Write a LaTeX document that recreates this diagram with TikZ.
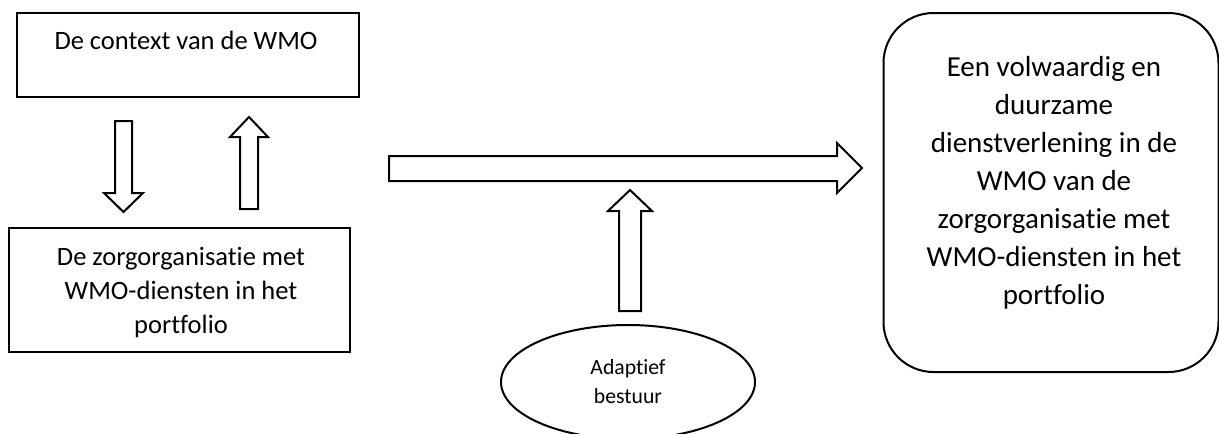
\documentclass[tikz,border=0pt]{standalone}
\usepackage{fontspec}
\setmainfont{Carlito}[Ligatures={NoCommon,NoRare,NoDiscretionary}]
\usetikzlibrary{shapes.geometric}
\begin{document}
\begin{tikzpicture}[x=1pt,y=-1pt, line width=2pt, line join=miter,
  box/.style={draw, rectangle, inner sep=0pt},
  blockarrow/.style={draw, line width=2pt, fill=white, line join=miter},
  txtA/.style={font=\fontsize{26.5}{34}\selectfont, align=center},
  txtB/.style={font=\fontsize{29}{38}\selectfont, align=center},
  txtC/.style={font=\fontsize{21.7}{29}\selectfont, align=center}]
\useasboundingbox (0,0) rectangle (1219,434);
\clip (0,0) rectangle (1219,434);
% context box
\node[box, minimum width=342pt, minimum height=84pt] (ctx) at (188,55) {};
\node[txtA, anchor=base] (ctxtext) at (186,49) {De context van de WMO};
% organisation box
\node[box, minimum width=341pt, minimum height=124pt] (org) at (179.5,290) {};
\node[txtA] (orgtext) at (181,293)
  {De zorgorganisatie met\\WMO-diensten in het\\portfolio};
% goal box
\node[box, rounded corners=50pt, minimum width=335pt, minimum height=359pt] (goal) at (1051,192.5) {};
\node[txtB] (goaltext) at (1054,183)
  {Een volwaardig en\\duurzame\\dienstverlening in de\\WMO van de\\zorgorganisatie met\\WMO-diensten in het\\portfolio};
% ellipse
\node[draw, ellipse, inner sep=0pt, minimum width=254pt, minimum height=114pt, txtC] (adapt) at (628,382)
  {Adaptief\\bestuur};
% block arrows
\draw[blockarrow] (115,121) -- (132,121) -- (132,193) -- (143,193) -- (123.5,212) -- (104,193) -- (115,193) -- cycle;
\draw[blockarrow] (240,209) -- (258,209) -- (258,137) -- (268,137) -- (249,117) -- (230,137) -- (240,137) -- cycle;
\draw[blockarrow] (389,156) -- (837,156) -- (837,143) -- (862,168) -- (837,193) -- (837,181) -- (389,181) -- cycle;
\draw[blockarrow] (619,311) -- (641,311) -- (641,211) -- (652,211) -- (630,190) -- (608,211) -- (619,211) -- cycle;
\end{tikzpicture}
\end{document}
